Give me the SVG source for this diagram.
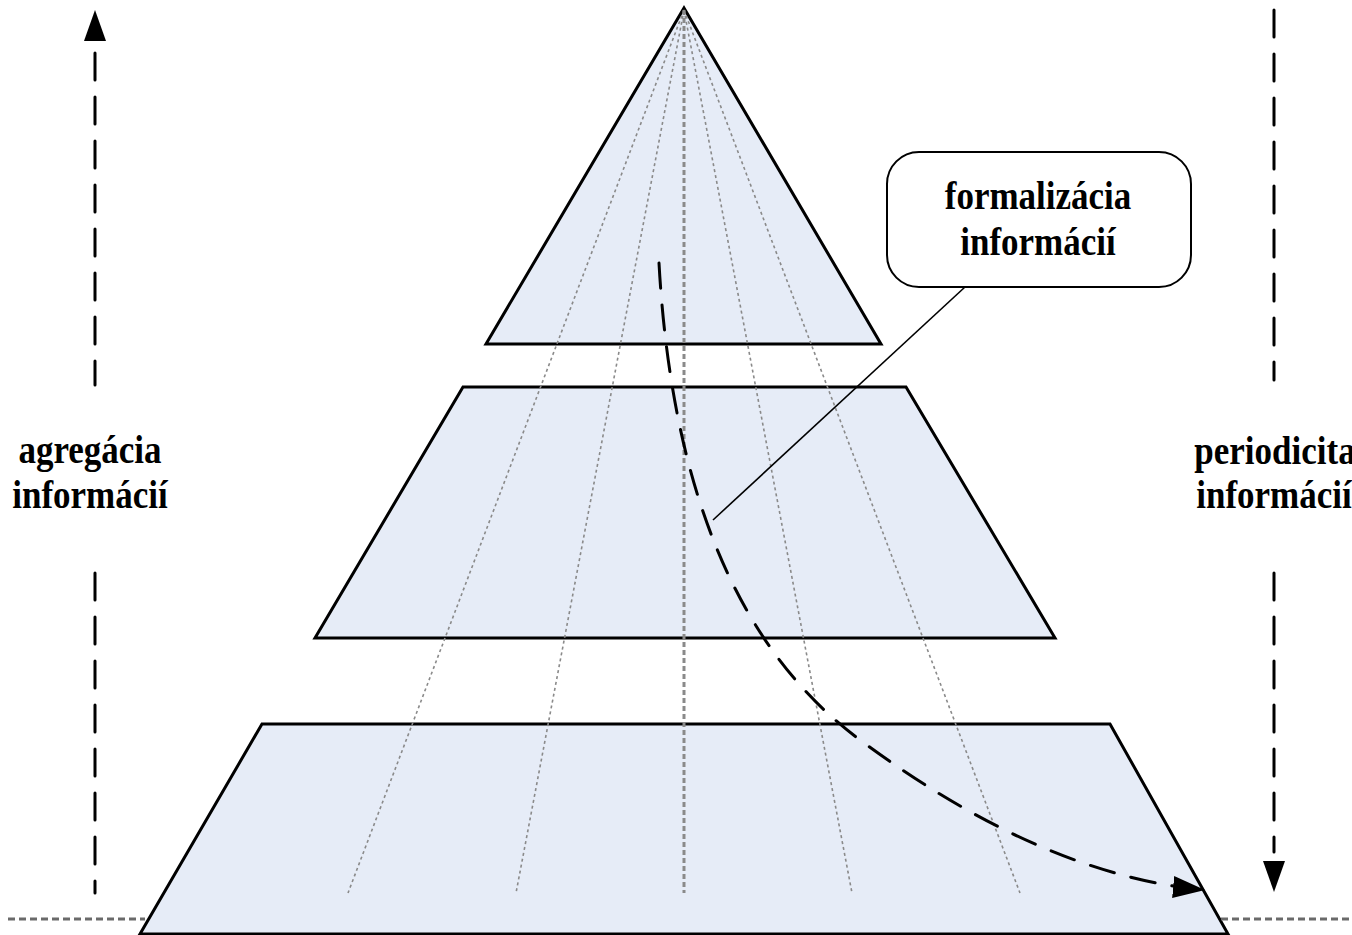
<svg xmlns="http://www.w3.org/2000/svg" width="1352" height="935" viewBox="0 0 1352 935">
<style>
.lvl{fill:#E6ECF7;stroke:#000;stroke-width:3;stroke-linejoin:miter}
.dot{stroke:#8A8A8A;stroke-width:1.6;stroke-dasharray:3 3;fill:none}
.dotc{stroke:#8A8A8A;stroke-width:3;stroke-dasharray:5 3;fill:none}
.base{stroke:#6A6A6A;stroke-width:3;stroke-dasharray:7 4;fill:none}
.axis{stroke:#000;stroke-width:3;stroke-dasharray:27 17;stroke-linecap:round;fill:none}
.lbl{font-family:"Liberation Serif","Times New Roman",serif;font-weight:bold;font-size:35px;fill:#000;text-anchor:middle}
</style>
<defs>
<marker id="ah" markerUnits="userSpaceOnUse" markerWidth="36" markerHeight="24" refX="32" refY="11" orient="auto">
<path d="M0,0 L32,11 L0,22 Z" fill="#000"/>
</marker>
</defs>
<rect width="1352" height="935" fill="#fff"/>
<g id="pyramid-top">
<polygon class="lvl" points="684,8 881,344 486,344"/>
</g>
<g id="pyramid-middle">
<polygon class="lvl" points="463,387 906,387 1055,638 315,638"/>
</g>
<g id="pyramid-bottom">
<polygon class="lvl" points="262,724 1110,724 1228,934 140,934"/>
</g>
<g id="guides">
<line class="dot" x1="684" y1="10" x2="348" y2="893"/>
<line class="dot" x1="684" y1="10" x2="516" y2="893"/>
<line class="dotc" x1="684" y1="10" x2="684" y2="893"/>
<line class="dot" x1="684" y1="10" x2="852" y2="893"/>
<line class="dot" x1="684" y1="10" x2="1020" y2="893"/>
<line class="base" x1="8" y1="919" x2="145" y2="919"/>
<line class="base" x1="1221" y1="919" x2="1352" y2="919"/>
</g>
<g id="connectors">
<path d="M659,263 Q678,605 860,740 T1205,890" fill="none" stroke="#000" stroke-width="3" stroke-dasharray="25 17" stroke-linecap="round" marker-end="url(#ah)"/>
<line x1="965" y1="287" x2="713" y2="520" stroke="#000" stroke-width="1.6"/>
</g>
<g id="axis-left">
<line class="axis" x1="95" y1="53" x2="95" y2="385"/>
<line class="axis" x1="95" y1="573" x2="95" y2="893"/>
<polygon points="95,10 84,41 106,41" fill="#000"/>
<text class="lbl" transform="translate(90,463) scale(1,1.15)">agregácia</text>
<text class="lbl" transform="translate(90,508) scale(1,1.15)">informácií</text>
</g>
<g id="axis-right">
<line class="axis" x1="1274" y1="10" x2="1274" y2="380"/>
<line class="axis" x1="1274" y1="573" x2="1274" y2="852"/>
<polygon points="1263,861 1285,861 1274,892" fill="#000"/>
<text class="lbl" transform="translate(1275,464) scale(1,1.15)">periodicita</text>
<text class="lbl" transform="translate(1274,508) scale(1,1.15)">informácií</text>
</g>
<g id="callout">
<rect x="887" y="152" width="304" height="135" rx="32" ry="32" fill="#fff" stroke="#000" stroke-width="2"/>
<text class="lbl" transform="translate(1038,209) scale(1,1.15)">formalizácia</text>
<text class="lbl" transform="translate(1038,255) scale(1,1.15)">informácií</text>
</g>
</svg>
